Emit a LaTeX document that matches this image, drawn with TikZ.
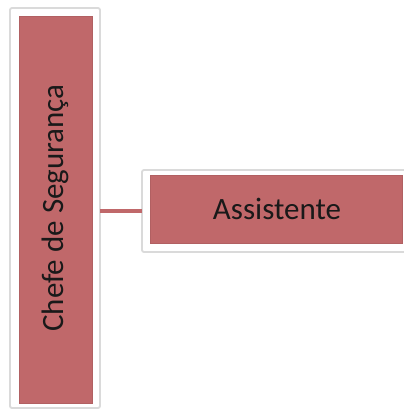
\documentclass[tikz,border=0pt]{standalone}
\usepackage{fontspec}
\setmainfont{Carlito}
\definecolor{boxred}{RGB}{192,104,106}
\definecolor{framegray}{RGB}{218,218,218}
\tikzset{
  x=1pt, y=-1pt,
  frame/.style={fill=white, draw=framegray, line width=1.8pt, rounded corners=2pt},
  card/.style={fill=boxred, draw=boxred!92!black, line width=0.3pt},
  label/.style={font=\fontsize{31}{37}\selectfont, text=black!90},
  link/.style={draw=boxred, line width=4pt}
}
\begin{document}
\begin{tikzpicture}
  \useasboundingbox (0,0) rectangle (404,410);
  \fill[white] (0,0) rectangle (404,410);
  \begin{scope}
    \clip (0,0) rectangle (404,410);
    % outer frames
    \draw[frame] (10,8) rectangle (100,408);
    \draw[frame] (142,170) rectangle (412,252);
    % connector between the two frames
    \coordinate (la) at (100,211);
    \coordinate (lb) at (142,211);
    \draw[link] (la) -- (lb);
    % coloured cards
    \node[card, minimum width=73pt, minimum height=387pt, inner sep=0pt] (chefe) at (55.5,209.5) {};
    \node[card, minimum width=252pt, minimum height=68pt, inner sep=0pt] (assist) at (276,209) {};
    \node[label, rotate=90] at ([yshift=1.5pt]chefe.center) {Chefe de Segurança};
    \node[label] at ([xshift=1pt]assist.center) {Assistente};
  \end{scope}
\end{tikzpicture}
\end{document}
